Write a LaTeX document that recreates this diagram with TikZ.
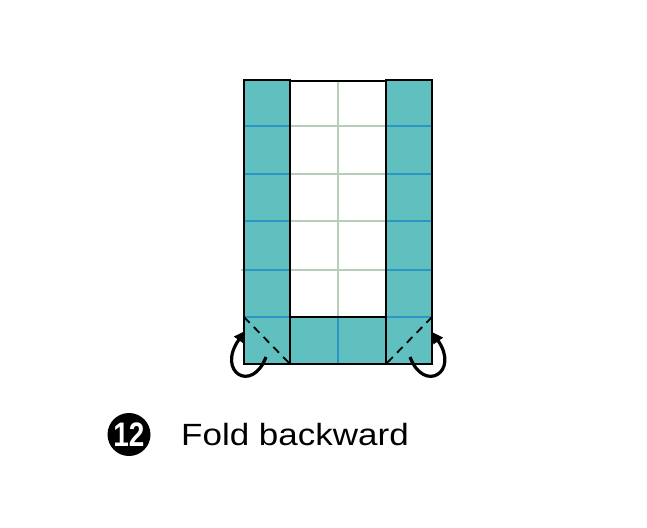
\documentclass[tikz,border=0pt]{standalone}
\usepackage{fontspec}
\setmainfont{Liberation Sans}
\usetikzlibrary{arrows.meta}
\definecolor{teal1}{HTML}{5FC0BF}
\definecolor{blueln}{HTML}{2A96C4}
\definecolor{grayln}{HTML}{B9CCBA}
\tikzset{
  x=1pt, y=-1pt,
  paper/.style={fill=teal1, draw=black, line width=1.3pt},
  crease/.style={draw=blueln, line width=1.2pt},
  gridln/.style={draw=grayln, line width=1.2pt},
  valley/.style={draw=black, line width=1.8pt, dash pattern=on 8pt off 6pt},
  foldarrow/.style={draw=black, line width=3.2pt, -{Triangle[length=11pt,width=11pt]}},
  badge/.style={circle, fill=black, minimum size=43pt, inner sep=0pt, text=white, font=\fontsize{34}{34}\selectfont\bfseries},
  caption/.style={anchor=base west, inner sep=0pt, font=\fontsize{30.7}{31}\selectfont}
}
\begin{document}
\begin{tikzpicture}
\useasboundingbox (0,0) rectangle (647,527);
% middle white region grid
\draw[gridln] (338,81) -- (338,317);
\foreach \yy in {126,174,221} \draw[gridln] (290,\yy) -- (386,\yy);
\draw[gridln] (241,270) -- (386,270);
\draw[black, line width=1.1pt] (290,81) -- (386,81);
% strips
\draw[paper] (244,80) rectangle (290,364);
\draw[paper] (386,80) rectangle (432,364);
\draw[paper] (290,317) rectangle (386,364);
\foreach \yy in {126,174,221,270,317} {
  \draw[crease] (245,\yy) -- (289,\yy);
  \draw[crease] (387,\yy) -- (431,\yy);
}
\draw[crease] (338,318) -- (338,363);
% re-stroke outlines
\draw[black, line width=1.3pt] (244,80) rectangle (290,364);
\draw[black, line width=1.3pt] (386,80) rectangle (432,364);
\draw[black, line width=1.3pt] (290,317) rectangle (386,364);
% valley diagonals
\coordinate (lTL) at (244,317);
\coordinate (lBR) at (290,364);
\coordinate (rTR) at (432,317);
\coordinate (rBL) at (386,364);
\draw[valley] (lTL) -- (lBR);
\draw[valley] (rTR) -- (rBL);
% fold arrows
\coordinate (la0) at (266,357);
\coordinate (la1) at (245,331);
\coordinate (ra0) at (410,357);
\coordinate (ra1) at (432,332);
\draw[foldarrow] (la0) .. controls (252,394) and (216,372) .. (la1);
\draw[foldarrow] (ra0) .. controls (424,394) and (460,372) .. (ra1);
% caption
\node[badge] (num) at (129,434.5) {\scalebox{0.82}[1]{12}};
\node[caption] (txt) at (181,445) {\scalebox{1.14}[1]{Fold backward}};
\end{tikzpicture}
\end{document}
